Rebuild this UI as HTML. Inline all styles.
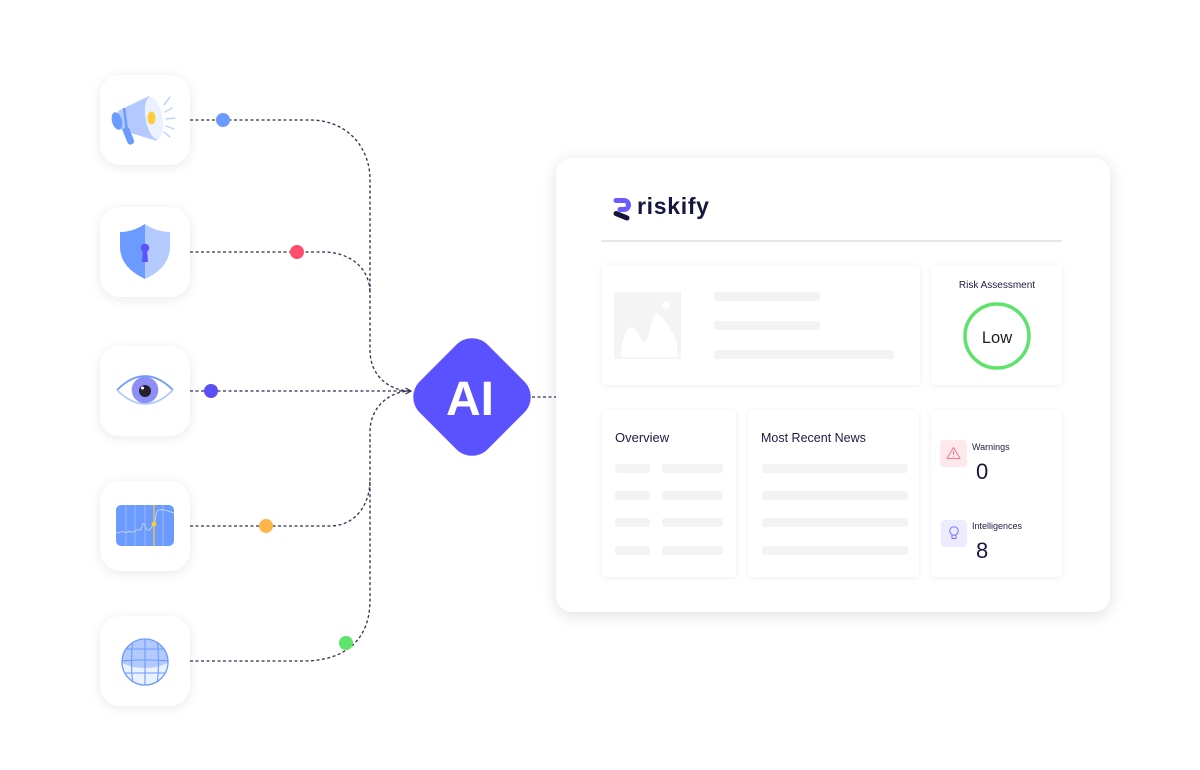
<!DOCTYPE html>
<html><head><meta charset="utf-8">
<style>
html,body{margin:0;padding:0;background:#fff;}
body{width:1200px;height:770px;position:relative;overflow:hidden;font-family:"Liberation Sans",sans-serif;}
.ic{position:absolute;left:100px;width:90px;height:90px;border-radius:20px;background:#fff;box-shadow:0 2px 12px rgba(0,0,0,0.09);}
.card{position:absolute;left:556px;top:158px;width:554px;height:454px;background:#fff;border-radius:16px;box-shadow:0 3px 16px rgba(0,0,0,0.13);}
.p{position:absolute;background:#fff;box-shadow:0 1px 6px rgba(0,0,0,0.075);border-radius:3px;}
.b{position:absolute;background:#f3f3f3;border-radius:3px;height:9px;}
svg{position:absolute;left:0;top:0;}
</style></head><body>
<div class="ic" style="top:75px"></div>
<div class="ic" style="top:207px"></div>
<div class="ic" style="top:346px"></div>
<div class="ic" style="top:481px"></div>
<div class="ic" style="top:616px"></div>

<div class="card"></div>
<div style="position:absolute;left:601px;top:240px;width:461px;height:1.5px;background:#e6e6ec"></div>
<div class="p" style="left:602px;top:265px;width:318px;height:120px"></div>
<div class="p" style="left:931px;top:265px;width:131px;height:120px"></div>
<div class="p" style="left:602px;top:410px;width:134px;height:167px"></div>
<div class="p" style="left:748px;top:410px;width:171px;height:167px"></div>
<div class="p" style="left:931px;top:410px;width:131px;height:167px"></div>

<div class="b" style="left:714px;top:292px;width:106px"></div>
<div class="b" style="left:714px;top:321px;width:106px"></div>
<div class="b" style="left:714px;top:350px;width:180px"></div>

<div class="b" style="left:615px;top:464px;width:35px"></div>
<div class="b" style="left:662px;top:464px;width:61px"></div>
<div class="b" style="left:615px;top:491px;width:35px"></div>
<div class="b" style="left:662px;top:491px;width:61px"></div>
<div class="b" style="left:615px;top:518px;width:35px"></div>
<div class="b" style="left:662px;top:518px;width:61px"></div>
<div class="b" style="left:615px;top:546px;width:35px"></div>
<div class="b" style="left:662px;top:546px;width:61px"></div>

<div class="b" style="left:762px;top:464px;width:146px"></div>
<div class="b" style="left:762px;top:491px;width:146px"></div>
<div class="b" style="left:762px;top:518px;width:146px"></div>
<div class="b" style="left:762px;top:546px;width:146px"></div>

<svg width="1200" height="770" viewBox="0 0 1200 770" xmlns="http://www.w3.org/2000/svg">
  <!-- connectors -->
  <g fill="none" stroke="#2e2e52" stroke-width="1.3" stroke-dasharray="3 2.5">
    <path d="M190 120 H310 C345 120 370 145 370 180 V350 C370 378 392 391 410 391"/>
    <path d="M190 252 H323 C350 252 370 268 370 293"/>
    <path d="M190 391 H410"/>
    <path d="M190 526 H330 C355 526 370 505 370 480"/>
    <path d="M190 661 H303 C345 661 370 640 370 600 V432 C370 405 392 391 410 391"/>
    <path d="M532 397 H556"/>
  </g>
  <path d="M405.5 388 L411 391 L405.5 394" fill="none" stroke="#2e2e52" stroke-width="1.2"/>

  <!-- dots -->
  <circle cx="223" cy="120" r="7" fill="#6b9bff"/>
  <circle cx="297" cy="252" r="7" fill="#ff4d6d"/>
  <circle cx="211" cy="391" r="7" fill="#5a4ff5"/>
  <circle cx="266" cy="526" r="7" fill="#ffb547"/>
  <circle cx="346" cy="643" r="7" fill="#5ee36b"/>

  <!-- AI diamond -->
  <rect x="-48" y="-48" width="96" height="96" rx="22" fill="#5b52ff" transform="translate(472 397) rotate(45)"/>
  <text x="470" y="415" font-family="Liberation Sans, sans-serif" font-size="48" font-weight="bold" fill="#fff" text-anchor="middle">AI</text>

  <!-- megaphone -->
  <g>
    <path d="M118 111 L149 96 L157 141 L121 130 Z" fill="#b3c9ff"/>
    <ellipse cx="154" cy="118" rx="8.5" ry="21.5" fill="#eaf1ff" transform="rotate(-10 154 118)"/>
    <ellipse cx="151.5" cy="118" rx="4" ry="6.5" fill="#ffcd3c"/>
    <ellipse cx="117" cy="121" rx="5" ry="9" fill="#6b9bff" transform="rotate(-15 117 121)"/>
    <line x1="124" y1="108" x2="127" y2="131" stroke="#6b9bff" stroke-width="2.5"/>
    <rect x="125" y="127" width="7" height="18" rx="3" fill="#6b9bff" transform="rotate(-22 128 136)"/>
    <g stroke="#b3c9ff" stroke-width="1.2" stroke-linecap="round">
      <line x1="164" y1="105" x2="170" y2="97"/>
      <line x1="165" y1="112" x2="172" y2="108"/>
      <line x1="166" y1="119" x2="175" y2="118"/>
      <line x1="166" y1="126" x2="174" y2="129"/>
      <line x1="164" y1="132" x2="170" y2="137"/>
    </g>
  </g>

  <!-- shield -->
  <defs>
    <clipPath id="lh"><rect x="110" y="215" width="35" height="70"/></clipPath>
    <clipPath id="rh"><rect x="145" y="215" width="35" height="70"/></clipPath>
  </defs>
  <path d="M145 224 Q133 232 120 232 L120 248 Q121 268 145 279 Q169 268 170 248 L170 232 Q157 232 145 224 Z" fill="#6b9bff" clip-path="url(#lh)"/>
  <path d="M145 224 Q133 232 120 232 L120 248 Q121 268 145 279 Q169 268 170 248 L170 232 Q157 232 145 224 Z" fill="#b3caff" clip-path="url(#rh)"/>
  <circle cx="145" cy="248" r="4.2" fill="#5a52fe"/>
  <path d="M143 250 L147 250 L148 262 L142 262 Z" fill="#5a52fe"/>

  <!-- eye -->
  <path d="M117 390 Q145 362 173 390" fill="none" stroke="#6b9bff" stroke-width="1.8"/>
  <path d="M117 390 Q145 418 173 390" fill="none" stroke="#b3caff" stroke-width="1.8"/>
  <circle cx="145" cy="390" r="13.3" fill="#8d8ff7"/>
  <circle cx="145" cy="391" r="6" fill="#25212f"/>
  <circle cx="142.5" cy="388" r="1.5" fill="#fff"/>

  <!-- chart -->
  <rect x="116" y="505" width="58" height="41" rx="5" fill="#6b9bff"/>
  <g stroke="#a3c0ff" stroke-width="0.8">
    <line x1="126" y1="505" x2="126" y2="546"/>
    <line x1="135" y1="505" x2="135" y2="546"/>
    <line x1="145" y1="505" x2="145" y2="546"/>
    <line x1="163" y1="505" x2="163" y2="546"/>
  </g>
  <path d="M116 532 C118 535 121 530 124 532 S128 530 131 532 S136 528 139 530 S142 521 144 524 S147 534 151 528 L154 524 C156 520 155 511 159 510 S168 511 174 513" fill="none" stroke="#c5d7ff" stroke-width="0.9"/>
  <line x1="154" y1="505" x2="154" y2="546" stroke="#f0c24a" stroke-width="1.4"/>
  <circle cx="154" cy="524" r="2.4" fill="#ffcd3c"/>

  <!-- globe -->
  <defs><clipPath id="gc"><circle cx="145" cy="662" r="23"/></clipPath></defs>
  <circle cx="145" cy="662" r="23" fill="#eaf1ff"/>
  <g clip-path="url(#gc)">
    <path d="M120 638 H170 V662 Q158 668 145 668 Q132 668 120 662 Z" fill="#b3caff"/>
    <g fill="none" stroke="#6b9bff" stroke-width="1.1">
      <line x1="120" y1="649" x2="170" y2="649"/>
      <path d="M120 661 Q145 659 170 661"/>
      <line x1="120" y1="673" x2="170" y2="673"/>
      <path d="M133 638 Q130 662 133 686"/>
      <line x1="145" y1="638" x2="145" y2="686"/>
      <path d="M157 638 Q160 662 157 686"/>
    </g>
  </g>
  <circle cx="145" cy="662" r="23" fill="none" stroke="#6b9bff" stroke-width="1.3"/>

  <!-- logo -->
  <path d="M616 200.5 H624 A4.5 4.5 0 0 1 624 209.5 H620" fill="none" stroke="#6a5cff" stroke-width="5" stroke-linecap="round"/>
  <line x1="616" y1="213.5" x2="627" y2="218" stroke="#16163f" stroke-width="5" stroke-linecap="round"/>
  <text x="637" y="214" font-family="Liberation Sans, sans-serif" font-size="23" font-weight="bold" fill="#16163f" letter-spacing="0.7">riskify</text>

  <!-- image placeholder -->
  <rect x="614" y="292" width="67" height="67" fill="#f4f4f4"/>
  <path d="M621 357 C621 342 626 327 632 327 C638 330 641 343 645 343 C649 341 650 318 657 313 C664 318 672 330 677 342 L677 357 Z" fill="#fff"/>
  <circle cx="666" cy="305" r="3.8" fill="#fff"/>

  <!-- risk assessment -->
  <text x="997" y="288" font-family="Liberation Sans, sans-serif" font-size="10" fill="#1c1c48" text-anchor="middle">Risk Assessment</text>
  <circle cx="997" cy="336" r="32" fill="none" stroke="#5de36a" stroke-width="3.5"/>
  <text x="997" y="343" font-family="Liberation Sans, sans-serif" font-size="16.5" fill="#222" text-anchor="middle">Low</text>

  <!-- section titles -->
  <text x="615" y="442" font-family="Liberation Sans, sans-serif" font-size="13" fill="#1c1c48">Overview</text>
  <text x="761" y="442" font-family="Liberation Sans, sans-serif" font-size="12.5" fill="#1c1c48">Most Recent News</text>

  <!-- stats -->
  <rect x="940" y="440" width="27" height="27" rx="4" fill="#fde8ec"/>
  <path d="M953.5 447.5 L960 458.5 H947 Z" fill="none" stroke="#f07a8e" stroke-width="1" stroke-linejoin="round"/>
  <line x1="953.5" y1="451" x2="953.5" y2="455" stroke="#f07a8e" stroke-width="1"/>
  <circle cx="953.5" cy="456.8" r="0.6" fill="#f07a8e"/>
  <text x="972" y="450" font-family="Liberation Sans, sans-serif" font-size="9" fill="#1c1c48">Warnings</text>
  <text x="976" y="479" font-family="Liberation Sans, sans-serif" font-size="22" fill="#16163f">0</text>

  <rect x="941" y="520" width="26" height="27" rx="4" fill="#ecebff"/>
  <circle cx="954" cy="531" r="4.2" fill="none" stroke="#7a72ff" stroke-width="1"/>
  <path d="M952 535 V538.5 H956 V535" fill="none" stroke="#7a72ff" stroke-width="1"/>
  <text x="972" y="529" font-family="Liberation Sans, sans-serif" font-size="9" fill="#1c1c48">Intelligences</text>
  <text x="976" y="558" font-family="Liberation Sans, sans-serif" font-size="22" fill="#16163f">8</text>
</svg>
</body></html>
